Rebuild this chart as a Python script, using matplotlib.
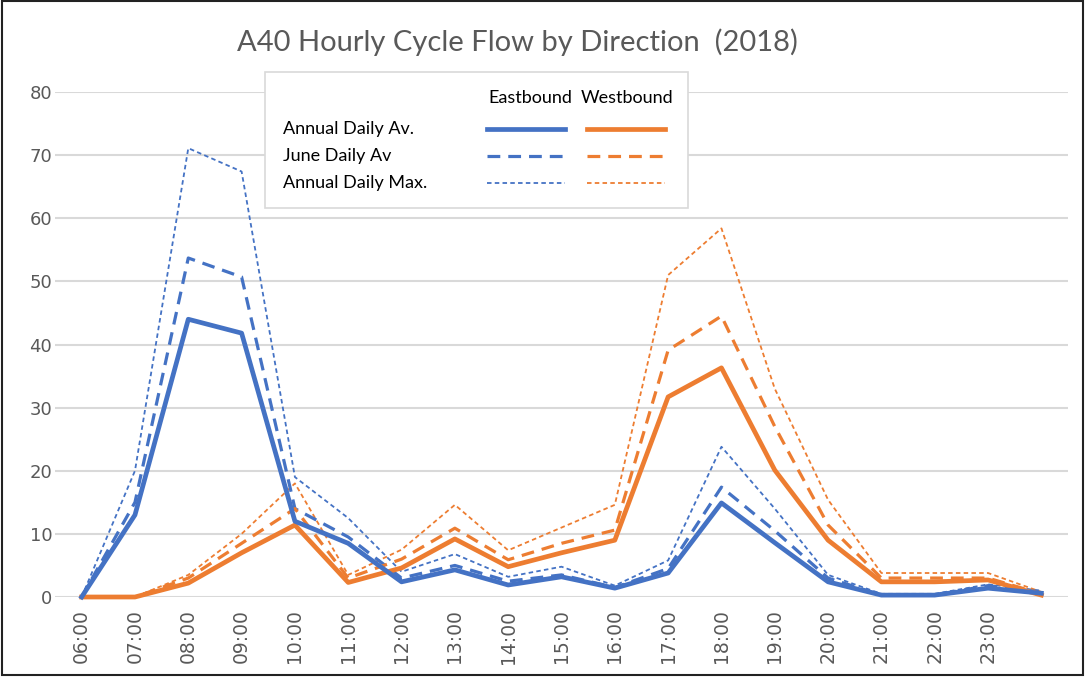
import numpy as np
import matplotlib
matplotlib.use("Agg")
import matplotlib.pyplot as plt
from matplotlib.lines import Line2D
from matplotlib.patches import Rectangle

plt.rcParams['font.family'] = ['Lato', 'DejaVu Sans']

# データ
hours = ["06:00", "07:00", "08:00", "09:00", "10:00", "11:00", "12:00", "13:00", "14:00",
         "15:00", "16:00", "17:00", "18:00", "19:00", "20:00", "21:00", "22:00", "23:00", ""]

east_avg = [0, 13, 44, 41.8, 12, 8.5, 2.4, 4.3, 1.9, 3.2, 1.4, 3.8, 14.9, 8.6, 2.4, 0.3, 0.3, 1.4, 0.6]
east_june = [0, 15, 53.7, 50.7, 14, 9.5, 3, 5, 2.5, 3.5, 1.5, 4.5, 17.4, 10.5, 3, 0.3, 0.3, 1.8, 0.8]
east_max = [0, 20, 71.1, 67.4, 19, 12.5, 4, 6.8, 3.2, 4.8, 1.8, 5.8, 23.8, 14, 3.5, 0.5, 0.5, 2, 1]

west_avg = [0, 0, 2.2, 7, 11.4, 2.3, 4.6, 9.2, 4.8, 7, 9, 31.7, 36.3, 20.1, 9, 2.4, 2.4, 2.7, 0.3]
west_june = [0, 0, 3, 8.5, 14, 3, 6, 10.9, 5.9, 8.5, 10.6, 39.1, 44.5, 27, 11.4, 3, 3, 3, 0.5]
west_max = [0, 0, 3.5, 10, 18, 3.5, 7.5, 14.6, 7.4, 11, 14.6, 51, 58.4, 33, 15.4, 3.8, 3.8, 3.8, 0.8]

blue = "#4472C4"
orange = "#ED7D31"

W, H = 1086, 677
fig = plt.figure(figsize=(W / 100, H / 100), dpi=100)

# ピクセル→図座標
def fx(px):
    return px / W

def fy(py):
    return 1 - py / H

ax = fig.add_axes([fx(55), fy(597), fx(1068) - fx(55), fy(92) - fy(597)])

x = np.arange(len(hours))

# 線のスタイル
solid = dict(lw=3.4, ls="-")
dashed = dict(lw=2.3, ls=(0, (4, 2.5)))
dotted = dict(lw=1.3, ls=(0, (2.5, 1.8)))

ax.plot(x, east_max, color=blue, clip_on=False, zorder=3, **dotted)
ax.plot(x, west_max, color=orange, clip_on=False, zorder=3, **dotted)
ax.plot(x, east_june, color=blue, clip_on=False, zorder=4, **dashed)
ax.plot(x, west_june, color=orange, clip_on=False, zorder=4, **dashed)
ax.plot(x, west_avg, color=orange, clip_on=False, zorder=5, **solid)
ax.plot(x, east_avg, color=blue, clip_on=False, zorder=5, **solid)

ax.set_xlim(-0.5, len(hours) - 0.5)
ax.set_ylim(0, 80)
ax.set_yticks(range(0, 81, 10))
ax.set_xticks(x[:-1])
ax.set_xticklabels(hours[:-1], rotation=90, fontsize=13.5, color="#595959",
                   family=['DejaVu Sans'])
ax.tick_params(axis='y', labelsize=13, labelcolor="#595959", length=0, pad=2)
ax.tick_params(axis='x', length=0, pad=9)
for lab in ax.get_yticklabels():
    lab.set_family(['DejaVu Sans'])
ax.grid(axis='y', color="#d9d9d9", lw=1.5)
ax.set_axisbelow(True)
for s in ax.spines.values():
    s.set_visible(False)

fig.text(fx(517), fy(42), "A40 Hourly Cycle Flow by Direction  (2018)",
         ha="center", va="center", fontsize=21, color="#595959")

# 凡例（手書き）
fig.patches.append(Rectangle((fx(265), fy(208)), fx(688) - fx(265), fy(72) - fy(208),
                             transform=fig.transFigure, facecolor="white",
                             edgecolor="#d9d9d9", lw=1.2, zorder=10))
fig.text(fx(530), fy(98), "Eastbound", ha="center", va="center", fontsize=13, zorder=11)
fig.text(fx(627), fy(98), "Westbound", ha="center", va="center", fontsize=13, zorder=11)
rows = [("Annual Daily Av.", 129, solid), ("June Daily Av", 156, dashed),
        ("Annual Daily Max.", 183, dotted)]
for label, py, style in rows:
    fig.text(fx(283), fy(py), label, ha="left", va="center", fontsize=13, zorder=11)
    fig.add_artist(Line2D([fx(487), fx(565)], [fy(py), fy(py)], color=blue,
                          transform=fig.transFigure, zorder=11, **style))
    fig.add_artist(Line2D([fx(587), fx(665)], [fy(py), fy(py)], color=orange,
                          transform=fig.transFigure, zorder=11, **style))

# 外枠
fig.patches.append(Rectangle((fx(2), fy(675)), fx(1083) - fx(2), fy(1) - fy(675),
                             transform=fig.transFigure, fill=False,
                             edgecolor="#222222", lw=1.5, zorder=12))

fig.savefig("out.png", dpi=100)
